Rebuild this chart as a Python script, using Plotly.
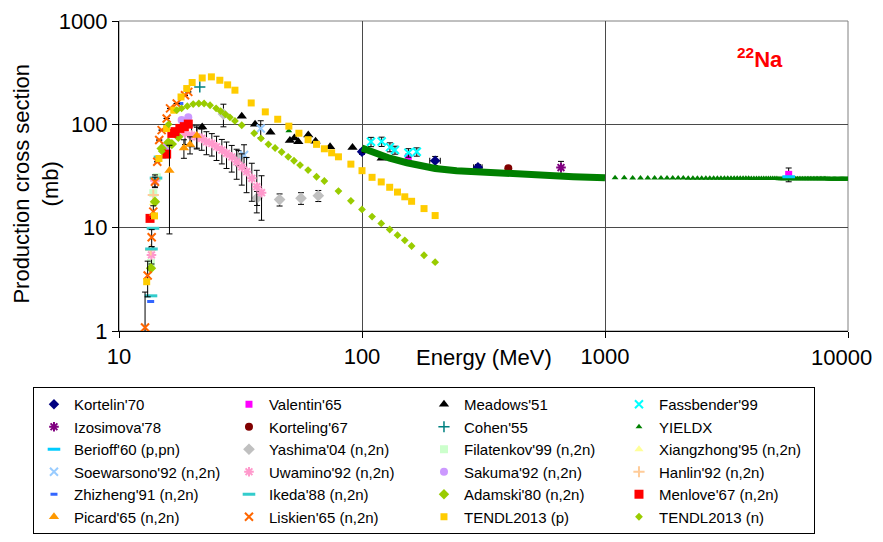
import plotly.graph_objects as go

# ---- data (energy in MeV, cross section in mb) ----
kortelin_e = [100, 200, 300]
kortelin_v = [54.2, 44.4, 38.4]
kortelin_err = [3, 4.5, 2.5]
kortelin_xerr = [0, 10, 12]

valentin_e = [155, 5700]
valentin_v = [47.5, 32.8]
valentin_err = [4, 5]

meadows_e = [22, 32, 36.3, 42, 50.5, 52.7, 54.7, 60.1, 64.4, 73.9, 91.4, 104.5, 120.5]
meadows_v = [94, 120, 100, 84, 69.6, 73.6, 67.8, 78.7, 68.5, 60.7, 59.6, 55.5, 46.9]

fassbender_e = [108.9, 120.5, 130.3, 136.7, 155.2, 168.1]
fassbender_v = [67.8, 68.1, 60.2, 56.4, 53.1, 54.2]
fassbender_err = [7, 7, 6, 5, 5, 5]

izosimova_e = [659]
izosimova_v = [38.2]
izosimova_err = [5.6]

korteling_e = [400]
korteling_v = [37.6]

cohen_e = [21.5]
cohen_v = [230]

yieldx_e = [50,
            1100, 1200, 1300, 1400, 1500, 1600, 1700, 1800, 1900,
            2000, 2100, 2200, 2300, 2400, 2500, 2600, 2700, 2800, 2900,
            3000, 3100, 3200, 3300, 3400, 3500, 3600, 3700, 3800, 3900,
            4000, 4100, 4200, 4300, 4400, 4500, 4600, 4700, 4800, 4900,
            5000, 5100, 5200, 5300, 5400, 5500, 5600, 5700, 5800, 5900,
            6000, 6100, 6200, 6300, 6400, 6500, 6600, 6700, 6800, 6900,
            7000, 7100, 7200, 7300, 7400, 7500, 7600, 7700, 7800, 7900,
            8000, 8100, 8200, 8300, 8400, 8500, 8600, 8700, 8800, 8900,
            9000, 9100, 9200, 9300, 9400, 9500, 9600, 9700, 9800, 9900, 10000]
yieldx_v = [86.6,
            30.4, 30.4, 30.3, 30.3, 30.3, 30.3, 30.2, 30.2, 30.2,
            30.2, 30.2, 30.1, 30.1, 30.1, 30.1, 30.1, 30.0, 30.0, 30.0,
            30.0, 30.0, 30.0, 30.0, 30.0, 30.0, 30.0, 30.0, 30.0, 30.0,
            29.9, 29.9, 29.9, 29.9, 29.9, 29.9, 29.9, 29.9, 29.9, 29.9,
            29.9, 29.9, 29.8, 29.8, 29.8, 29.8, 29.8, 29.8, 29.8, 29.8,
            29.8, 29.8, 29.8, 29.8, 29.8, 29.8, 29.7, 29.7, 29.7, 29.7,
            29.7, 29.7, 29.7, 29.7, 29.7, 29.7, 29.7, 29.7, 29.7, 29.7,
            29.7, 29.7, 29.7, 29.6, 29.6, 29.6, 29.6, 29.6, 29.6, 29.6,
            29.6, 29.6, 29.6, 29.6, 29.6, 29.6, 29.6, 29.6, 29.6, 29.6, 29.6]
# dense part of YIELDX (100 - 1000 MeV) that merges into a thick band
yieldx_band_e = [100, 111, 130, 153, 179, 200, 245, 306, 394, 540, 740, 1000]
yieldx_band_v = [59, 53.5, 47, 42.5, 39, 37.4, 35.6, 34.5, 33.3, 32.1, 31.1, 30.4]

berioff_e = [5700]
berioff_v = [31.1]

yashima_e = [26.9, 31.0, 37.0, 45.8, 56.1, 66.1]
yashima_v = [125.6, 47.7, 19.4, 18.7, 19.3, 20.4]
yashima_err = [31, 8, 3, 2.5, 2.5, 2.5]

filatenkov_e = [13.54, 13.84, 14.32]
filatenkov_v = [4.56, 21.6, 30.7]

xiangzhong_e = [13.84, 14.3]
xiangzhong_v = [17.3, 30]

soewarsono_e = [32.7, 38.3]
soewarsono_v = [50.4, 91.3]
soewarsono_err = [13, 17]

uwamino_e = [13.6, 14.06, 18.7, 19.9, 20.9, 21.9, 22.9, 24.1, 25.2, 26.5, 27.7,
             29.1, 30.5, 32.0, 33.5, 35.2, 36.9, 38.6]
uwamino_v = [5.45, 28.4, 81.7, 78.7, 75.7, 73.1, 67.8, 65.3, 60.7, 56.4, 52.4,
             48.5, 43.4, 38.8, 34.8, 30.0, 24.9, 21.8]
uwamino_err = [1, 4, 18, 18, 18, 17, 17, 16, 16, 15, 15, 14, 14, 13, 13, 12, 11, 10]

sakuma_e = [15.71, 18.1, 19.28]
sakuma_v = [60.7, 110, 117]

hanlin_e = [13.5, 13.84]
hanlin_v = [6.1, 20.7]

zhizheng_e = [13.5, 17.8]
zhizheng_v = [1.93, 159]

ikeda_e = [13.54, 13.6, 13.8, 14.2, 14.75]
ikeda_v = [2.19, 6.22, 9.86, 30.2, 48.2]

adamski_e = [13.54, 14.06, 14.98, 15.96, 16.5, 17.54]
adamski_v = [4.05, 17.8, 58.5, 66.8, 64.4, 75.7]

menlove_e = [13.42, 15.71, 16.5, 17.0, 17.8, 18.57, 19.28]
menlove_v = [12.3, 51.5, 81.7, 85, 91.3, 95, 100.5]

picard_e = [16.13, 18.5, 19.6, 20.9]
picard_v = [35.7, 58.9, 63.7, 77.8]
picard_err = [27, 12, 12, 19]

liskien_e = [12.8, 13.12, 13.63, 13.84, 14.06, 14.37, 14.64, 14.98, 15.71, 16.22,
             17.28, 18.69, 19.28]
liskien_v = [1.08, 3.44, 8.07, 14.3, 27.8, 43.4, 70.4, 87.9, 114, 142.6, 159, 191, 206]
liskien_err = [1.3, 1.3, 1.5, 2, 3, None, None, None, None, None, None, None, None]

tendl_p_e = [13, 14, 14.6, 15.7, 16.8, 18, 19, 20, 22, 24, 26, 28, 30, 35, 40, 45, 50,
             55, 60, 65, 70, 75, 80, 90, 100, 110, 120, 130, 140, 150, 160, 180, 200]
tendl_p_v = [3.0, 13, 46.7, 91, 137, 184, 222, 254, 281, 288, 267, 241, 214, 161, 132,
             112, 96, 82, 71, 64, 58, 53, 48.5, 41.2, 35.6, 30.7, 27.7, 24.6, 22.1,
             19.9, 18.0, 15.3, 13.1]

tendl_n_e = [14.06, 15, 16, 17.3, 18.1, 19.1, 20.2, 21.3, 22.4, 23.7, 25.1, 26.2, 27.4,
             28.6, 30, 32, 36, 38.4, 41.2, 43.9, 46.7, 49.7, 52.5, 55.6, 60, 65, 70,
             80, 90, 100, 110, 120, 130, 140, 150, 160, 180, 200]
tendl_n_v = [17.8, 55, 100, 137, 143, 150, 157, 159, 159, 153, 143, 134, 125, 117, 108,
             98, 82, 73, 64, 59, 54, 48.5, 44.4, 40.3, 36.1, 31.1, 28.3, 22.6, 18.2,
             15.0, 12.8, 11.0, 9.6, 8.45, 7.55, 6.65, 5.41, 4.63]

x_ticks = [10, 100, 1000, 10000]
x_ticktext = ['10', '100', '1000', '10000']
y_ticks = [1, 10, 100, 1000]
y_ticktext = ['1', '10', '100', '1000']

FONT = 'Liberation Sans, Arial, sans-serif'


def err(arr):
    return dict(type='data', array=arr, color='black', thickness=1, width=3)


def add(name, x, y, symbol, color, size, line=None, ey=None, ex=None, show=True):
    marker = dict(symbol=symbol, color=color, size=size)
    if line:
        marker['line'] = dict(color=color, width=line)
    else:
        marker['line'] = dict(width=0)
    fig.add_trace(go.Scatter(
        x=x, y=y, mode='markers', name=name, marker=marker,
        error_y=err(ey) if ey else None,
        error_x=err(ex) if ex else None,
        showlegend=show,
    ))


fig = go.Figure()

add("Kortelin'70", kortelin_e, kortelin_v, 'diamond', '#000080', 8,
    ey=kortelin_err, ex=kortelin_xerr)
add("Valentin'65", valentin_e, valentin_v, 'square', '#FF00FF', 7, ey=valentin_err)
add("Meadows'51", meadows_e, meadows_v, 'triangle-up', 'black', 9)
add("Fassbender'99", fassbender_e, fassbender_v, 'x-thin', '#00FFFF', 8, line=2,
    ey=fassbender_err)
add("Izosimova'78", izosimova_e, izosimova_v, 'asterisk', '#800080', 8, line=2,
    ey=izosimova_err)
add("Korteling'67", korteling_e, korteling_v, 'circle', '#800000', 8)
add("Cohen'55", cohen_e, cohen_v, 'cross-thin', '#008080', 8, line=1.5)
add("YIELDX", yieldx_e, yieldx_v, 'triangle-up', '#008000', 6)
fig.add_trace(go.Scatter(
    x=yieldx_band_e, y=yieldx_band_v, mode='lines', showlegend=False,
    line=dict(color='#008000', width=7),
))
add("Berioff'60 (p,pn)", berioff_e, berioff_v, 'line-ew', '#00CCFF', 9, line=3)
add("Yashima'04 (n,2n)", yashima_e, yashima_v, 'diamond', '#C0C0C0', 9, ey=yashima_err)
add("Filatenkov'99 (n,2n)", filatenkov_e, filatenkov_v, 'square', '#CCFFCC', 8)
add("Xiangzhong'95 (n,2n)", xiangzhong_e, xiangzhong_v, 'triangle-up', '#FFFF99', 8)
add("Soewarsono'92 (n,2n)", soewarsono_e, soewarsono_v, 'x-thin', '#99CCFF', 8, line=2,
    ey=soewarsono_err)
add("Uwamino'92 (n,2n)", uwamino_e, uwamino_v, 'asterisk', '#FF99CC', 8, line=2,
    ey=uwamino_err)
add("Sakuma'92 (n,2n)", sakuma_e, sakuma_v, 'circle', '#CC99FF', 8)
add("Hanlin'92 (n,2n)", hanlin_e, hanlin_v, 'cross-thin', '#FFCC99', 8, line=2)
add("Zhizheng'91 (n,2n)", zhizheng_e, zhizheng_v, 'line-ew', '#3366FF', 5, line=3)
add("Ikeda'88 (n,2n)", ikeda_e, ikeda_v, 'line-ew', '#33CCCC', 9, line=3)
add("Adamski'80 (n,2n)", adamski_e, adamski_v, 'diamond', '#99CC00', 8)
add("Menlove'67 (n,2n)", menlove_e, menlove_v, 'square', '#FF0000', 9)
add("Picard'65 (n,2n)", picard_e, picard_v, 'triangle-up', '#FF9900', 9, ey=picard_err)
add("Liskien'65 (n,2n)", liskien_e, liskien_v, 'x-thin', '#FF6600', 8, line=2,
    ey=liskien_err)
add("TENDL2013 (p)", tendl_p_e, tendl_p_v, 'square', '#FFCC00', 7)
add("TENDL2013 (n)", tendl_n_e, tendl_n_v, 'diamond', '#99CC00', 6)

fig.add_annotation(text='<b><sup>22</sup>Na</b>', x=0.8793, y=0.88, xref='paper',
                   yref='paper', showarrow=False, xanchor='center', yanchor='middle',
                   font=dict(family=FONT, size=22, color='#FF0000'))
fig.add_annotation(text='Energy (MeV)', x=0.5007, y=-0.084, xref='paper', yref='paper',
                   showarrow=False, xanchor='center', yanchor='middle',
                   font=dict(family=FONT, size=22, color='black'))
fig.add_annotation(text='Production cross section<br>(mb)', x=-0.1132, y=0.477,
                   xref='paper', yref='paper', showarrow=False, textangle=-90,
                   xanchor='center', yanchor='middle',
                   font=dict(family=FONT, size=22, color='black'))
# last x tick label, pulled in slightly so it is not cut at the page edge
fig.add_annotation(text=x_ticktext[-1], x=1.0357, y=-0.0839, xref='paper', yref='paper',
                   showarrow=False, xanchor='right', yanchor='middle',
                   font=dict(family=FONT, size=22, color='black'))

# grey frame around plot area
fig.add_shape(type='rect', xref='paper', yref='paper', x0=0, x1=1, y0=0, y1=1,
              line=dict(color='#808080', width=1), layer='below')

# the page body adds an 8px margin, so the figure is 16px smaller than the window
fig.update_layout(
    width=867, height=526,
    margin=dict(l=111, r=27, t=13, b=203, autoexpand=False),
    plot_bgcolor='white', paper_bgcolor='white',
    font=dict(family=FONT, color='black'),
    xaxis=dict(
        type='log', range=[1, 4],
        tickvals=x_ticks, ticktext=x_ticktext[:-1] + [''],
        showgrid=True, gridcolor='#4a4a4a', gridwidth=1,
        showline=True, linecolor='black', linewidth=1,
        ticks='outside', ticklen=6, tickcolor='black',
        tickfont=dict(family=FONT, size=22, color='black'),
        zeroline=False,
    ),
    yaxis=dict(
        type='log', range=[0, 3],
        tickvals=y_ticks, ticktext=y_ticktext,
        showgrid=True, gridcolor='#4a4a4a', gridwidth=1,
        showline=True, linecolor='black', linewidth=1,
        ticks='outside', ticklen=6, tickcolor='black',
        tickfont=dict(family=FONT, size=22, color='black'),
        zeroline=False,
    ),
    legend=dict(
        orientation='h', x=-0.118, xanchor='left', y=-0.1806, yanchor='top',
        entrywidth=150, entrywidthmode='pixels',
        bordercolor='black', borderwidth=1, bgcolor='white',
        font=dict(family=FONT, size=15, color='black'),
        tracegroupgap=0,
    ),
)

fig.write_html("out.html")
